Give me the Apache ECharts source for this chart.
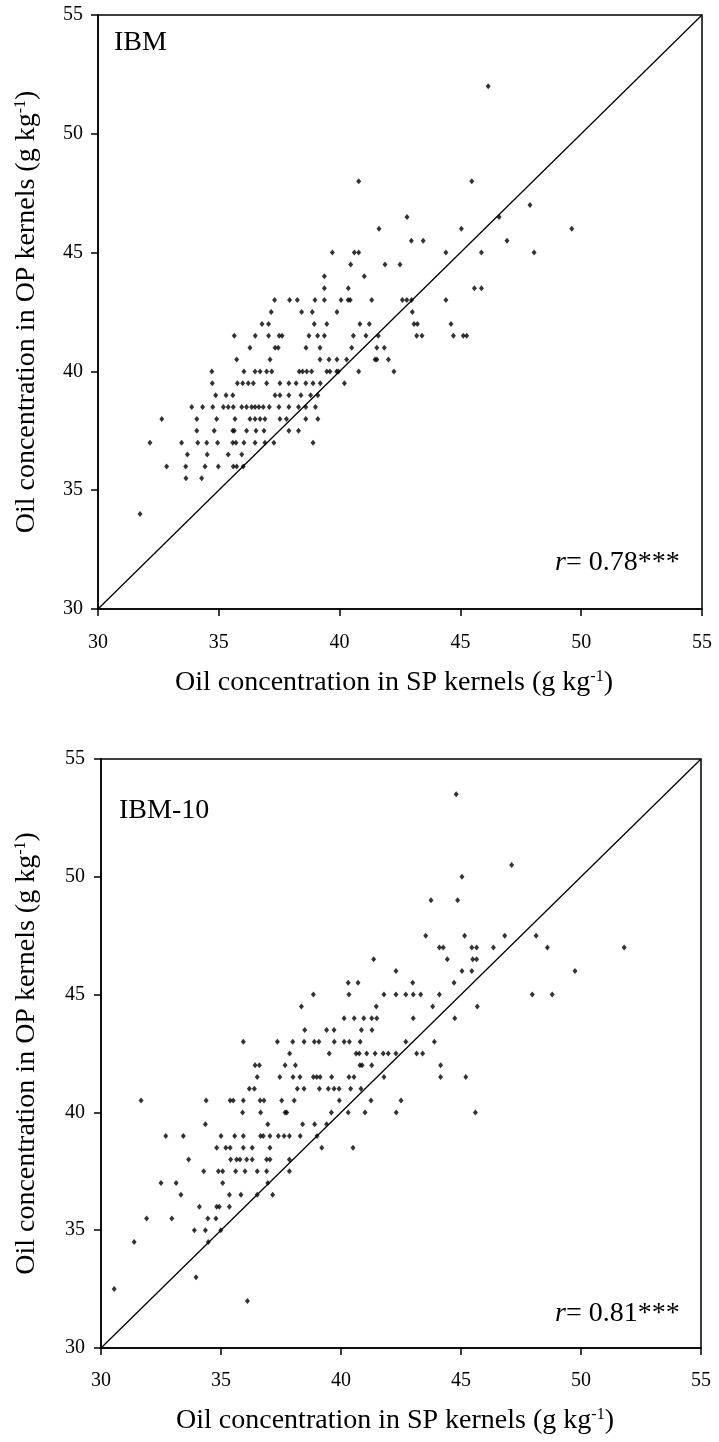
<!DOCTYPE html>
<html><head><meta charset="utf-8">
<script src="https://cdn.jsdelivr.net/npm/echarts@6/dist/echarts.min.js"></script>
<style>html,body{margin:0;padding:0;background:#fff}#c{width:719px;height:1442px}</style>
</head><body><div id="c"></div>
<script>
// ---- data ----
const axisTicks = [30, 35, 40, 45, 50, 55];
const panelLabels = ['IBM', 'IBM-10'];
const rValues = ['0.78***', '0.81***'];
// IBM panel: each row = [OP value, SP values...]
const ibmRows = [
  [52.0, 46.15],
  [48.0, 40.79, 45.47],
  [47.0, 47.88],
  [46.5, 42.79, 46.60],
  [46.0, 41.63, 45.04, 49.61],
  [45.5, 42.97, 43.46, 46.93],
  [45.0, 39.70, 40.61, 40.79, 44.40, 45.87, 48.05],
  [44.5, 40.46, 41.88, 42.50],
  [44.0, 39.37, 41.02],
  [43.5, 39.37, 40.36, 45.58, 45.87],
  [43.0, 37.31, 37.93, 38.25, 38.98, 39.37, 40.06, 40.35, 40.44, 41.33, 42.60, 42.78, 42.98, 44.40],
  [42.5, 37.17, 38.43, 38.87, 39.89, 43.01],
  [42.0, 36.79, 37.06, 38.95, 39.47, 40.84, 41.23, 43.08, 43.22, 44.61],
  [41.5, 35.64, 36.51, 37.06, 37.50, 37.62, 38.73, 39.09, 39.37, 40.57, 41.09, 41.60, 43.19, 43.41, 44.71, 45.12, 45.26],
  [41.0, 36.29, 37.33, 37.46, 38.61, 39.19, 40.50, 41.54, 41.85],
  [40.5, 35.74, 37.12, 39.19, 39.56, 39.89, 40.29, 41.47, 41.54, 42.02],
  [40.0, 34.71, 36.04, 36.50, 36.71, 36.98, 37.19, 38.33, 38.47, 38.64, 38.84, 39.47, 39.60, 39.88, 39.95, 40.79, 42.25],
  [39.5, 34.73, 35.77, 35.99, 36.22, 36.43, 36.98, 37.53, 37.9, 38.2, 38.6, 38.9, 39.2, 40.2],
  [39.0, 34.87, 35.30, 35.58, 37.33, 37.53, 37.9, 38.4, 38.8, 39.1],
  [38.5, 33.88, 34.33, 34.75, 35.19, 35.39, 35.60, 35.95, 36.15, 36.36, 36.50, 36.66, 36.84, 37.09, 37.49, 37.9, 38.3, 38.6, 39.0],
  [38.0, 32.64, 34.09, 34.91, 35.67, 36.29, 36.50, 36.71, 36.91, 37.53, 37.8, 38.6, 39.1],
  [37.5, 34.09, 34.81, 35.58, 35.64, 36.15, 36.54, 36.87, 37.9, 38.3],
  [37.0, 32.15, 33.46, 34.13, 34.50, 34.95, 35.58, 35.71, 36.04, 36.50, 36.91, 37.28, 38.9],
  [36.5, 33.70, 34.52, 35.39, 35.95],
  [36.0, 32.84, 33.63, 34.43, 34.98, 35.60, 35.74, 36.01],
  [35.5, 33.64, 34.29],
  [34.0, 31.74]
];
// IBM-10 panel
const ibm10Rows = [
  [53.5, 44.8],
  [50.5, 47.11],
  [50.0, 45.04],
  [49.0, 43.75, 44.86],
  [47.5, 43.53, 45.15, 46.82, 48.13],
  [47.0, 44.10, 44.26, 45.45, 45.65, 46.35, 48.60, 51.80],
  [46.5, 41.36, 44.43, 45.49, 45.65],
  [46.0, 42.29, 45.04, 45.45, 49.75],
  [45.5, 40.30, 40.71, 42.99, 44.71],
  [45.0, 38.85, 40.33, 41.79, 42.29, 42.70, 43.01, 43.32, 44.10, 47.97, 48.80],
  [44.5, 38.35, 41.47, 43.82, 45.68],
  [44.0, 40.13, 40.55, 40.95, 41.28, 41.49, 43.01, 44.74],
  [43.5, 38.49, 39.40, 39.71, 40.85, 41.29],
  [43.0, 35.93, 37.35, 37.99, 38.46, 38.89, 39.08, 39.72, 40.13, 40.35, 40.80, 42.70, 43.89],
  [42.5, 37.86, 39.51, 40.63, 40.76, 41.07, 41.42, 41.76, 41.97, 42.29, 43.15, 43.40],
  [42.0, 36.42, 36.60, 37.67, 38.10, 40.79, 40.88, 41.28, 44.15],
  [41.5, 36.51, 37.45, 38.00, 38.29, 38.85, 38.99, 39.13, 39.61, 40.33, 40.54, 41.79, 44.15, 45.20],
  [41.0, 36.18, 36.39, 38.18, 38.46, 39.10, 39.47, 39.71, 39.92, 40.40, 40.83],
  [40.5, 31.67, 34.38, 35.38, 35.51, 35.93, 36.63, 36.79, 37.53, 38.05, 39.93, 41.25, 42.50],
  [40.0, 35.90, 36.65, 37.67, 37.74, 39.6, 40.3, 41.0, 42.3, 45.6],
  [39.5, 34.35, 36.95, 38.4, 38.9, 39.4],
  [39.0, 32.70, 33.43, 35.00, 35.57, 35.93, 36.65, 36.76, 37.04, 37.39, 37.63, 37.85, 38.3, 39.0],
  [38.5, 34.82, 35.20, 35.38, 35.93, 36.30, 37.04, 39.2, 40.5],
  [38.0, 33.65, 35.40, 35.65, 35.79, 36.07, 36.30, 36.90, 37.04, 37.85],
  [37.5, 34.28, 34.89, 35.07, 35.61, 36.00, 36.51, 36.90, 37.85],
  [37.0, 32.50, 33.13, 35.07, 36.95],
  [36.5, 33.33, 35.35, 35.83, 36.51, 37.15],
  [36.0, 34.10, 34.82, 34.93, 35.35],
  [35.5, 31.90, 32.95, 34.45, 34.79],
  [35.0, 33.89, 34.35, 34.99],
  [34.5, 31.38, 34.47],
  [33.0, 33.96],
  [32.5, 30.55],
  [32.0, 36.10]
];
const diagonal = [[30, 30], [55, 55]];

function rowsToPoints(rows) {
  const pts = [];
  rows.forEach(r => { for (let i = 1; i < r.length; i++) pts.push([r[i], r[0]]); });
  return pts;
}

const FONT = '"Liberation Serif", "Times New Roman", serif';
const grids = [
  { left: 98, top: 15, width: 604, height: 594 },
  { left: 101, top: 759, width: 600, height: 589 }
];
const titleRich = {
  a: { fontFamily: FONT, fontSize: 28, color: '#000' },
  s: { fontFamily: FONT, fontSize: 16, color: '#000', padding: [0, 0, 12, 0] }
};
function xAx(i, margin, gap) {
  return {
    gridIndex: i, type: 'value', min: 30, max: 55, interval: 5,
    axisLine: { lineStyle: { color: '#000', width: 1.5 } },
    axisTick: { show: true, inside: false, length: 7, lineStyle: { color: '#000', width: 1.5 } },
    axisLabel: { fontFamily: FONT, fontSize: 20, color: '#000', margin: margin,
      formatter: v => axisTicks.includes(v) ? String(v) : '' },
    splitLine: { show: false },
    name: '{a|Oil concentration in SP kernels (g kg}{s|-1}{a|)}',
    nameLocation: 'middle', nameGap: gap,
    nameTextStyle: { rich: titleRich, padding: [0, 12, 0, 0] }
  };
}
function yAx(i, margin, gap) {
  return {
    gridIndex: i, type: 'value', min: 30, max: 55, interval: 5,
    axisLine: { lineStyle: { color: '#000', width: 1.5 } },
    axisTick: { show: true, inside: false, length: 7, lineStyle: { color: '#000', width: 1.5 } },
    axisLabel: { fontFamily: FONT, fontSize: 20, color: '#000', margin: margin,
      formatter: v => axisTicks.includes(v) ? String(v) : '' },
    splitLine: { show: false },
    name: '{a|Oil concentration in OP kernels (g kg}{s|-1}{a|)}',
    nameLocation: 'middle', nameGap: gap,
    nameTextStyle: { rich: titleRich }
  };
}
function scatter(i, rows) {
  return {
    type: 'scatter', xAxisIndex: i, yAxisIndex: i, data: rowsToPoints(rows),
    symbol: 'diamond', symbolSize: [5, 6], itemStyle: { color: '#000' }, silent: true
  };
}
function diag(i) {
  return {
    type: 'line', xAxisIndex: i, yAxisIndex: i, data: diagonal, symbol: 'none',
    lineStyle: { color: '#000', width: 1.3 }, silent: true, z: 1
  };
}
const rRich = { i: { fontFamily: FONT, fontSize: 28, fontStyle: 'italic', fill: '#000' }, n: { fontFamily: FONT, fontSize: 28, fill: '#000' } };
const chart = echarts.init(document.getElementById('c'), null, { renderer: 'canvas' });
chart.setOption({
  animation: false,
  backgroundColor: '#fff',
  grid: grids.map(g => Object.assign({ show: true, borderColor: '#000', borderWidth: 1.5, backgroundColor: 'transparent' }, g)),
  xAxis: [xAx(0, 24, 60), xAx(1, 23, 59)],
  yAxis: [yAx(0, 15, 57), yAx(1, 16, 60)],
  series: [diag(0), scatter(0, ibmRows), diag(1), scatter(1, ibm10Rows)],
  graphic: [
    { type: 'text', left: 114, top: 29, style: { text: panelLabels[0], font: '28px ' + FONT, fill: '#000' } },
    { type: 'text', left: 119, top: 797, style: { text: panelLabels[1], font: '28px ' + FONT, fill: '#000' } },
    { type: 'text', left: 555, top: 549, style: { rich: rRich, text: '{i|r}{n|= ' + rValues[0] + '}' } },
    { type: 'text', left: 555, top: 1300, style: { rich: rRich, text: '{i|r}{n|= ' + rValues[1] + '}' } }
  ]
});
</script></body></html>
